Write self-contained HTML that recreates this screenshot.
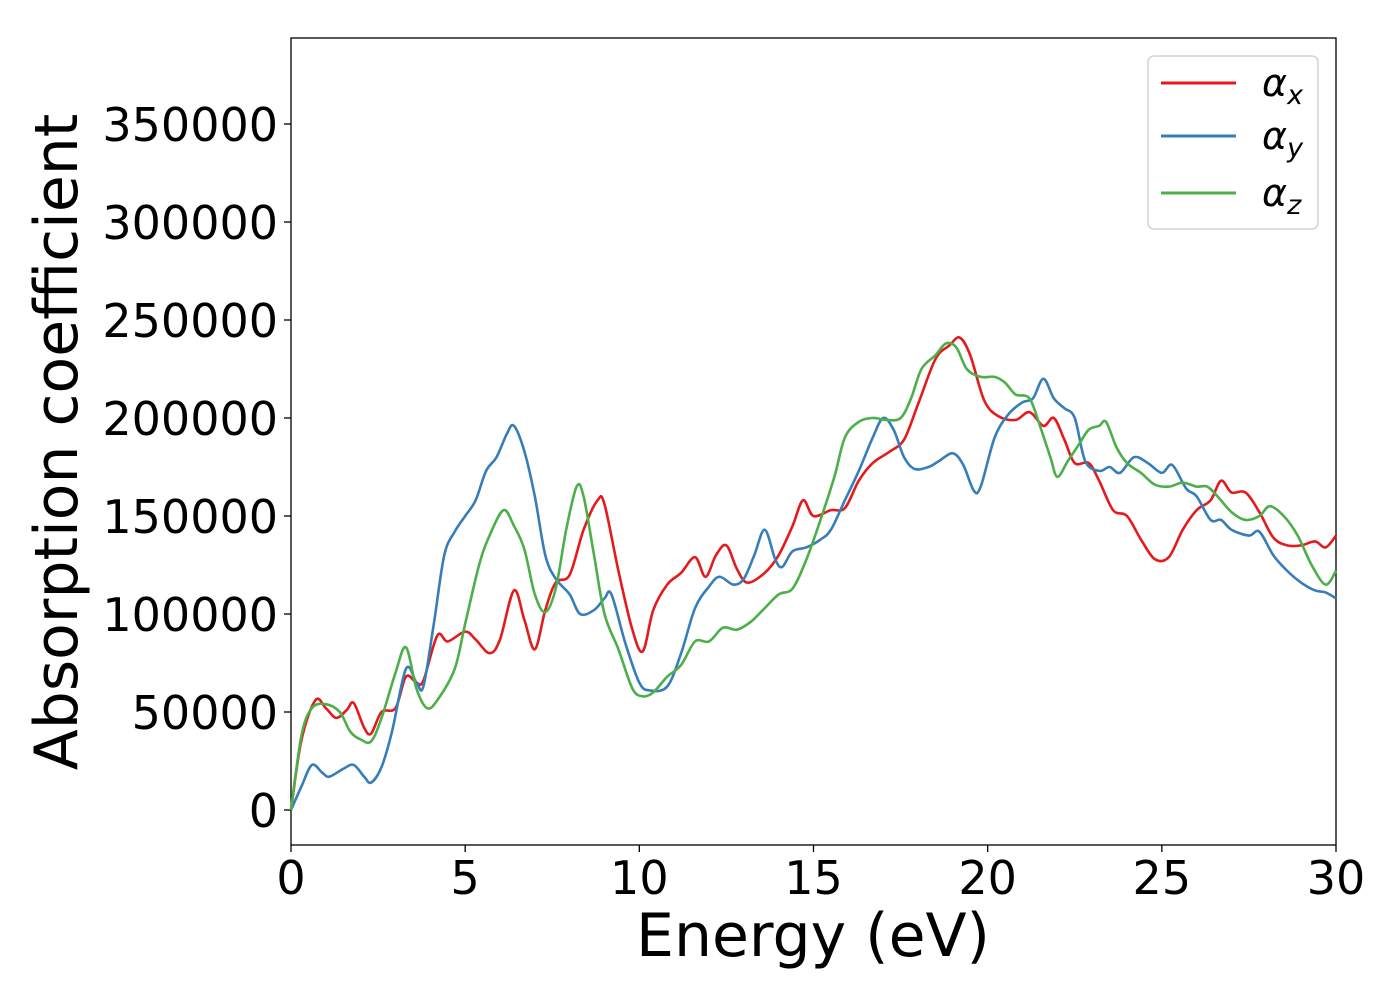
<!DOCTYPE html>
<html><head><meta charset="utf-8">
<style>
html,body{margin:0;padding:0;background:#fff;}
svg{display:block;font-family:"DejaVu Sans","Liberation Sans",sans-serif;}
</style></head>
<body>
<svg id="chart" width="1400" height="1000" viewBox="0 0 1400 1000">
<rect x="291" y="38" width="1045" height="807" fill="#fff" stroke="#000" stroke-width="1.3"/>
<g id="ticks"></g>
<g id="lines"></g>
<text x="813" y="956" font-size="60" text-anchor="middle">Energy (eV)</text>
<text transform="translate(77,442) rotate(-90)" font-size="60" text-anchor="middle">Absorption coefficient</text>
<g>
<rect x="1148" y="56" width="170" height="173" rx="6" fill="#fff" stroke="#ccc" stroke-width="1.3"/>
<g><line x1="1161" y1="83" x2="1236" y2="83" stroke="#e41a1c" stroke-width="3"/><text x="1262" y="96" font-size="38" font-style="italic">α<tspan font-size="27" dy="8">x</tspan></text></g>
<g><line x1="1161" y1="136" x2="1236" y2="136" stroke="#377eb8" stroke-width="3"/><text x="1262" y="149" font-size="38" font-style="italic">α<tspan font-size="27" dy="8">y</tspan></text></g>
<g><line x1="1161" y1="193" x2="1236" y2="193" stroke="#4daf4a" stroke-width="3"/><text x="1262" y="206" font-size="38" font-style="italic">α<tspan font-size="27" dy="8">z</tspan></text></g>
</g>
</svg>
<script>
const xTicks=[0,5,10,15,20,25,30];
const yTicks=[0,50000,100000,150000,200000,250000,300000,350000];
const ex=[0,0.3,0.7,1.0,1.3,1.6,1.8,2.1,2.3,2.6,3.0,3.3,3.6,3.8,4.2,4.5,5.0,5.3,5.7,6.0,6.4,6.7,7.0,7.3,7.6,8.0,8.4,8.8,9.0,9.4,9.8,10.1,10.4,10.8,11.2,11.6,11.9,12.2,12.5,12.8,13.1,13.6,14.0,14.4,14.7,15.0,15.5,15.9,16.3,16.7,17.2,17.6,18.0,18.5,18.9,19.2,19.5,19.9,20.3,20.8,21.2,21.6,21.9,22.2,22.5,22.9,23.2,23.6,24.0,24.4,24.8,25.2,25.6,26.0,26.4,26.7,27.0,27.4,27.8,28.2,28.6,29.0,29.4,29.7,30.0];
const alphaX=[0,35700,56000,52000,47000,51000,54600,42000,39000,50000,52000,68000,65000,66000,89000,86000,91000,87000,80000,87000,112000,97000,82000,102000,116000,120000,143000,158000,156000,122000,92000,81000,102000,115000,121000,129000,119000,130000,135000,123000,116000,121000,130000,145000,158000,150000,153000,154000,168000,177000,183000,189000,207000,230000,237000,241000,232000,209000,201000,199000,203000,196000,200000,189000,177000,177000,168000,153000,150000,138000,128000,129000,143000,153000,158000,168000,162000,162000,152000,139000,135000,135000,137000,134000,140000];
const ey=[0,0.3,0.6,0.9,1.1,1.5,1.8,2.1,2.3,2.6,2.9,3.3,3.6,3.8,4.1,4.4,4.7,5.0,5.3,5.6,5.9,6.2,6.4,6.7,7.0,7.3,7.6,8.0,8.3,8.7,9.0,9.2,9.6,10.0,10.3,10.8,11.2,11.6,12.0,12.3,12.7,13.0,13.3,13.6,13.9,14.1,14.4,14.8,15.2,15.5,15.9,16.3,16.7,17.0,17.3,17.6,17.9,18.3,18.6,19.0,19.3,19.6,19.8,20.2,20.6,21.0,21.3,21.6,21.9,22.2,22.5,22.8,23.2,23.5,23.8,24.2,24.6,25.0,25.3,25.7,26.0,26.4,26.7,27.0,27.5,27.8,28.2,28.6,29.0,29.4,29.7,30.0];
const alphaY=[0,12000,23000,19000,17000,21000,23000,17000,14000,22000,40000,72000,65000,63000,95000,130000,142000,150000,158000,173000,180000,192000,196000,183000,160000,130000,118000,110000,100000,102000,108000,110000,85000,65000,61000,63000,80000,103000,114000,119000,115000,118000,130000,143000,128000,124000,132000,134000,138000,143000,158000,173000,190000,200000,194000,180000,174000,175000,178000,182000,176000,163000,165000,190000,202000,208000,210000,220000,210000,205000,200000,178000,173000,175000,172000,180000,177000,172000,176000,164000,160000,148000,148000,143000,140000,142000,130000,122000,116000,112000,111000,108000];
const ez=[0,0.3,0.6,1.0,1.4,1.7,2.0,2.3,2.6,3.0,3.3,3.6,3.9,4.2,4.7,5.0,5.4,5.7,6.1,6.4,6.7,7.0,7.3,7.6,7.9,8.2,8.4,8.7,9.0,9.4,9.8,10.1,10.4,10.8,11.2,11.6,12.0,12.4,12.8,13.2,13.6,14.0,14.4,14.8,15.2,15.6,15.9,16.3,16.7,17.1,17.5,17.8,18.1,18.5,18.8,19.1,19.4,19.8,20.2,20.5,20.8,21.2,21.5,21.8,22.0,22.3,22.6,22.9,23.2,23.4,23.7,24.0,24.4,24.8,25.2,25.6,26.0,26.3,26.6,27.0,27.4,27.8,28.1,28.5,28.9,29.3,29.7,30.0];
const alphaZ=[0,38000,52000,54000,50000,40000,36000,35000,47000,70000,83000,62000,52000,56000,72000,95000,125000,140000,153000,145000,133000,110000,101000,113000,143000,165000,160000,130000,100000,82000,62000,58000,60000,68000,74000,86000,86000,93000,92000,96000,103000,110000,113000,128000,148000,170000,190000,198000,200000,199000,200000,210000,225000,232000,238000,236000,225000,221000,221000,218000,212000,210000,196000,180000,170000,178000,186000,194000,196000,198000,185000,177000,172000,166000,165000,167000,165000,165000,160000,152000,148000,150000,155000,150000,140000,125000,115000,122000];

const NS="http://www.w3.org/2000/svg";
const X0=291,X1=1336,Y0=810,PPU=98/50000;
function xs(e){return X0+(e/30)*(X1-X0);}
function ys(v){return Y0-v*PPU;}
const tg=document.getElementById('ticks');
xTicks.forEach(t=>{
  const l=document.createElementNS(NS,'line');
  l.setAttribute('x1',xs(t));l.setAttribute('x2',xs(t));l.setAttribute('y1',845);l.setAttribute('y2',852);
  l.setAttribute('stroke','#000');l.setAttribute('stroke-width','1.3');
  
  
  tg.appendChild(l);
  const tx=document.createElementNS(NS,'text');
  tx.setAttribute('x',xs(t));tx.setAttribute('y',894);tx.setAttribute('font-size','46');tx.setAttribute('text-anchor','middle');
  tx.textContent=t;
  
  
  tg.appendChild(tx);
});
yTicks.forEach(t=>{
  const l=document.createElementNS(NS,'line');
  l.setAttribute('x1',284);l.setAttribute('x2',291);l.setAttribute('y1',ys(t));l.setAttribute('y2',ys(t));
  l.setAttribute('stroke','#000');l.setAttribute('stroke-width','1.3');
  
  
  tg.appendChild(l);
  const tx=document.createElementNS(NS,'text');
  tx.setAttribute('x',278);tx.setAttribute('y',ys(t)+17);tx.setAttribute('font-size','46');tx.setAttribute('text-anchor','end');
  tx.textContent=t;
  
  
  tg.appendChild(tx);
});
function smoothPath(xsArr,vArr){
  const p=xsArr.map((e,i)=>[xs(e),ys(vArr[i])]);
  let d='M'+p[0][0]+','+p[0][1];
  for(let i=0;i<p.length-1;i++){
    const a=p[Math.max(0,i-1)],b=p[i],c=p[i+1],e=p[Math.min(p.length-1,i+2)];
    const c1=[b[0]+(c[0]-a[0])/6,b[1]+(c[1]-a[1])/6];
    const c2=[c[0]-(e[0]-b[0])/6,c[1]-(e[1]-b[1])/6];
    d+=' C'+c1.join(',')+' '+c2.join(',')+' '+c.join(',');
  }
  return d;
}
const lg=document.getElementById('lines');
[[ex,alphaX,'#e41a1c','series-alpha-x'],[ey,alphaY,'#377eb8','series-alpha-y'],[ez,alphaZ,'#4daf4a','series-alpha-z']].forEach(s=>{
  const p=document.createElementNS(NS,'path');
  p.setAttribute('d',smoothPath(s[0],s[1]));
  p.setAttribute('fill','none');p.setAttribute('stroke',s[2]);p.setAttribute('stroke-width','2.6');
  
  
  lg.appendChild(p);
});
</script>
</body></html>
